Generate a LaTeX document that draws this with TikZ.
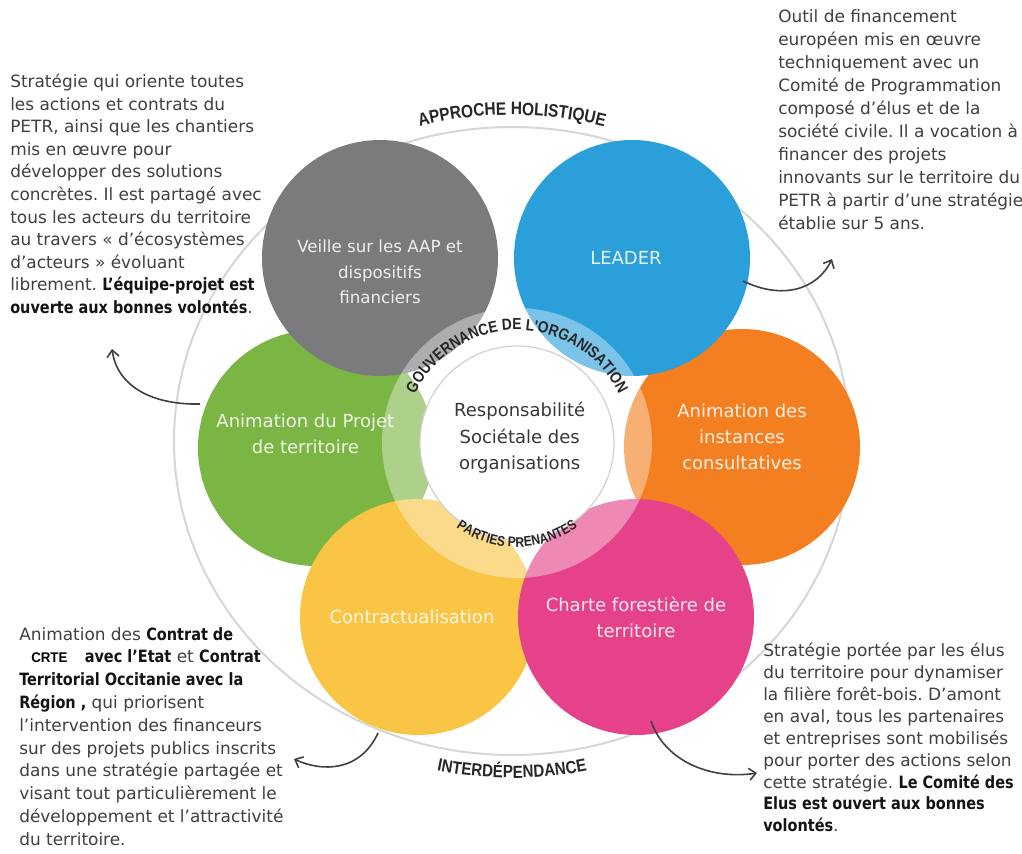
\documentclass[tikz,border=0pt]{standalone}
\usepackage{fontspec}
\setmainfont{DejaVu Sans}[BoldFont={DejaVu Sans Condensed Bold},BoldFeatures={FakeStretch=0.95}]
\newfontfamily\arcfont{Liberation Sans}[FakeStretch=0.86]
\newfontfamily\crtefont{Liberation Sans}[FakeStretch=0.95]
\usetikzlibrary{decorations.text,arrows.meta}
\definecolor{cgray}{HTML}{7B7B7E}
\definecolor{cblue}{HTML}{2B9FDA}
\definecolor{cgreen}{HTML}{7BB543}
\definecolor{corange}{HTML}{F47F20}
\definecolor{cyellow}{HTML}{FAC544}
\definecolor{cpink}{HTML}{E5428A}
\definecolor{bodytxt}{HTML}{404040}
\newcommand\emphb[1]{{\bfseries\color{black!92}#1}}
\frenchspacing
\begin{document}
\begin{tikzpicture}[x=0.75pt,y=-0.75pt,
  bubble/.style={circle,inner sep=0pt,minimum size=177pt,draw=none},
  ctext/.style={align=center,text=white,text opacity=0.88,inner sep=0pt,
    font=\fontsize{13.5}{19.5}\selectfont},
  bodyblock/.style={align=left,anchor=north west,inner sep=0pt,text=bodytxt},
  arr/.style={draw=black!75,line width=1.2pt,-{Straight Barb[length=5pt,width=9pt]}},
  arctext/.style={decorate,decoration={text along path,text align=center,
    text color=black!85}}]
\fill[white] (0,0) rectangle (1022,854);
\useasboundingbox (0,0) rectangle (1022,854);

% outer ring
\coordinate (C) at (512,441);
\draw[black!16,line width=1.5pt] (C) ellipse[x radius=338,y radius=314];

% coloured circles
\node[bubble,fill=corange] (orange) at (742,447) {};
\node[bubble,fill=cgreen] (green) at (316,448) {};
\node[bubble,fill=cyellow] (yellow) at (418,617) {};
\node[bubble,fill=cpink] (pink) at (636,617) {};
\node[bubble,fill=cgray] (grey) at (380,258) {};
\node[bubble,fill=cblue] (blue) at (632,258) {};

% translucent band and core
\coordinate (O) at (517,443);
\fill[white,fill opacity=0.38,even odd rule] (O) circle[radius=135] (O) circle[radius=97];
\node[circle,inner sep=0pt,minimum size=145.5pt,fill=white,draw=black!18,line width=0.9pt] (core) at (O) {};

% circle texts
\node[ctext,font=\fontsize{12.5}{19}\selectfont] (tgrey) at (grey) [yshift=-10.5pt] {Veille sur les AAP et\\dispositifs\\financiers};
\node[ctext] (tblue) at (blue) [xshift=-4.5pt] {LEADER};
\node[ctext] (tgreen) at (green) [xshift=-8pt,yshift=11pt] {Animation du Projet\\de territoire};
\node[ctext] (torange) at (orange) [yshift=7.5pt] {Animation des\\instances\\consultatives};
\node[ctext] (tyellow) at (yellow) [xshift=-4.5pt] {Contractualisation};
\node[ctext] (tpink) at (pink) {Charte forestière de\\territoire};
\node[align=center,inner sep=0pt,text=black!78,font=\fontsize{13.5}{19.8}\selectfont] (tcore) at (O) [xshift=2pt,yshift=4pt] {Responsabilité\\Sociétale des\\organisations};

% arc texts
\path[arctext,decoration={text={|\arcfont\bfseries\fontsize{12}{12}\selectfont|GOUVERNANCE DE L'ORGANISATION}}]
  (O) ++(-168:113) arc[start angle=-168,end angle=-12,radius=113];
\path[arctext,decoration={text={|\arcfont\bfseries\fontsize{10.5}{10.5}\selectfont|PARTIES PRENANTES}}]
  (O) ++(150:104) arc[start angle=150,end angle=30,radius=104];
\path[arctext,decoration={text={|\arcfont\bfseries\fontsize{13.5}{13.5}\selectfont|APPROCHE HOLISTIQUE}}]
  (C) ++(-118:350 and 326) arc[start angle=-118,end angle=-62,x radius=350,y radius=326];
\path[arctext,decoration={text={|\arcfont\bfseries\fontsize{13.2}{13.2}\selectfont|INTERDÉPENDANCE}}]
  (C) ++(115:360 and 337) arc[start angle=115,end angle=65,x radius=360,y radius=337];

% side texts
\node[bodyblock,font=\fontsize{12.7}{16.9}\selectfont] (tl) at (10,74) {Stratégie qui oriente toutes\\
les actions et contrats du\\
PETR, ainsi que les chantiers\\
mis en œuvre pour\\
développer des solutions\\
concrètes. Il est partagé avec\\
tous les acteurs du territoire\\
au travers « d'écosystèmes\\
d'acteurs » évoluant\\
librement. \emphb{L'équipe-projet est}\\
\emphb{ouverte aux bonnes volontés}.};

\node[bodyblock,font=\fontsize{12.7}{17.25}\selectfont] (tr) at (778,9) {Outil de financement\\
européen mis en œuvre\\
techniquement avec un\\
Comité de Programmation\\
composé d'élus et de la\\
société civile. Il a vocation à\\
financer des projets\\
innovants sur le territoire du\\
PETR à partir d'une stratégie\\
établie sur 5 ans.};

\node[bodyblock,font=\fontsize{12.7}{17.1}\selectfont] (bl) at (19,627) {Animation des \emphb{Contrat de}\\
\hspace*{9pt}{\crtefont\bfseries\fontsize{10.5}{10.5}\selectfont\color{black}CRTE}\hspace{13pt}\emphb{avec l'Etat} et \emphb{Contrat}\\
\emphb{Territorial Occitanie avec la}\\
\emphb{Région ,} qui priorisent\\
l'intervention des financeurs\\
sur des projets publics inscrits\\
dans une stratégie partagée et\\
visant tout particulièrement le\\
développement et l'attractivité\\
du territoire.};

\node[bodyblock,font=\fontsize{12.7}{16.4}\selectfont] (br) at (763,643) {Stratégie portée par les élus\\
du territoire pour dynamiser\\
la filière forêt-bois. D'amont\\
en aval, tous les partenaires\\
et entreprises sont mobilisés\\
pour porter des actions selon\\
cette stratégie. \emphb{Le Comité des}\\
\emphb{Elus est ouvert aux bonnes}\\
\emphb{volontés}.};

% arrows
\coordinate (a1s) at (200,404);
\coordinate (a1e) at (112,349);
\coordinate (a2s) at (743,281);
\coordinate (a2e) at (832,259);
\coordinate (a3s) at (378,733);
\coordinate (a3e) at (294,759);
\coordinate (a4s) at (651,721);
\coordinate (a4e) at (757,773);
\draw[arr] (a1s) .. controls (150,405) and (117,385) .. (a1e);
\draw[arr] (a2s) .. controls (782,300) and (817,290) .. (a2e);
\draw[arr] (a3s) .. controls (360,772) and (322,772) .. (a3e);
\draw[arr] (a4s) .. controls (665,762) and (712,780) .. (a4e);
\end{tikzpicture}
\end{document}
